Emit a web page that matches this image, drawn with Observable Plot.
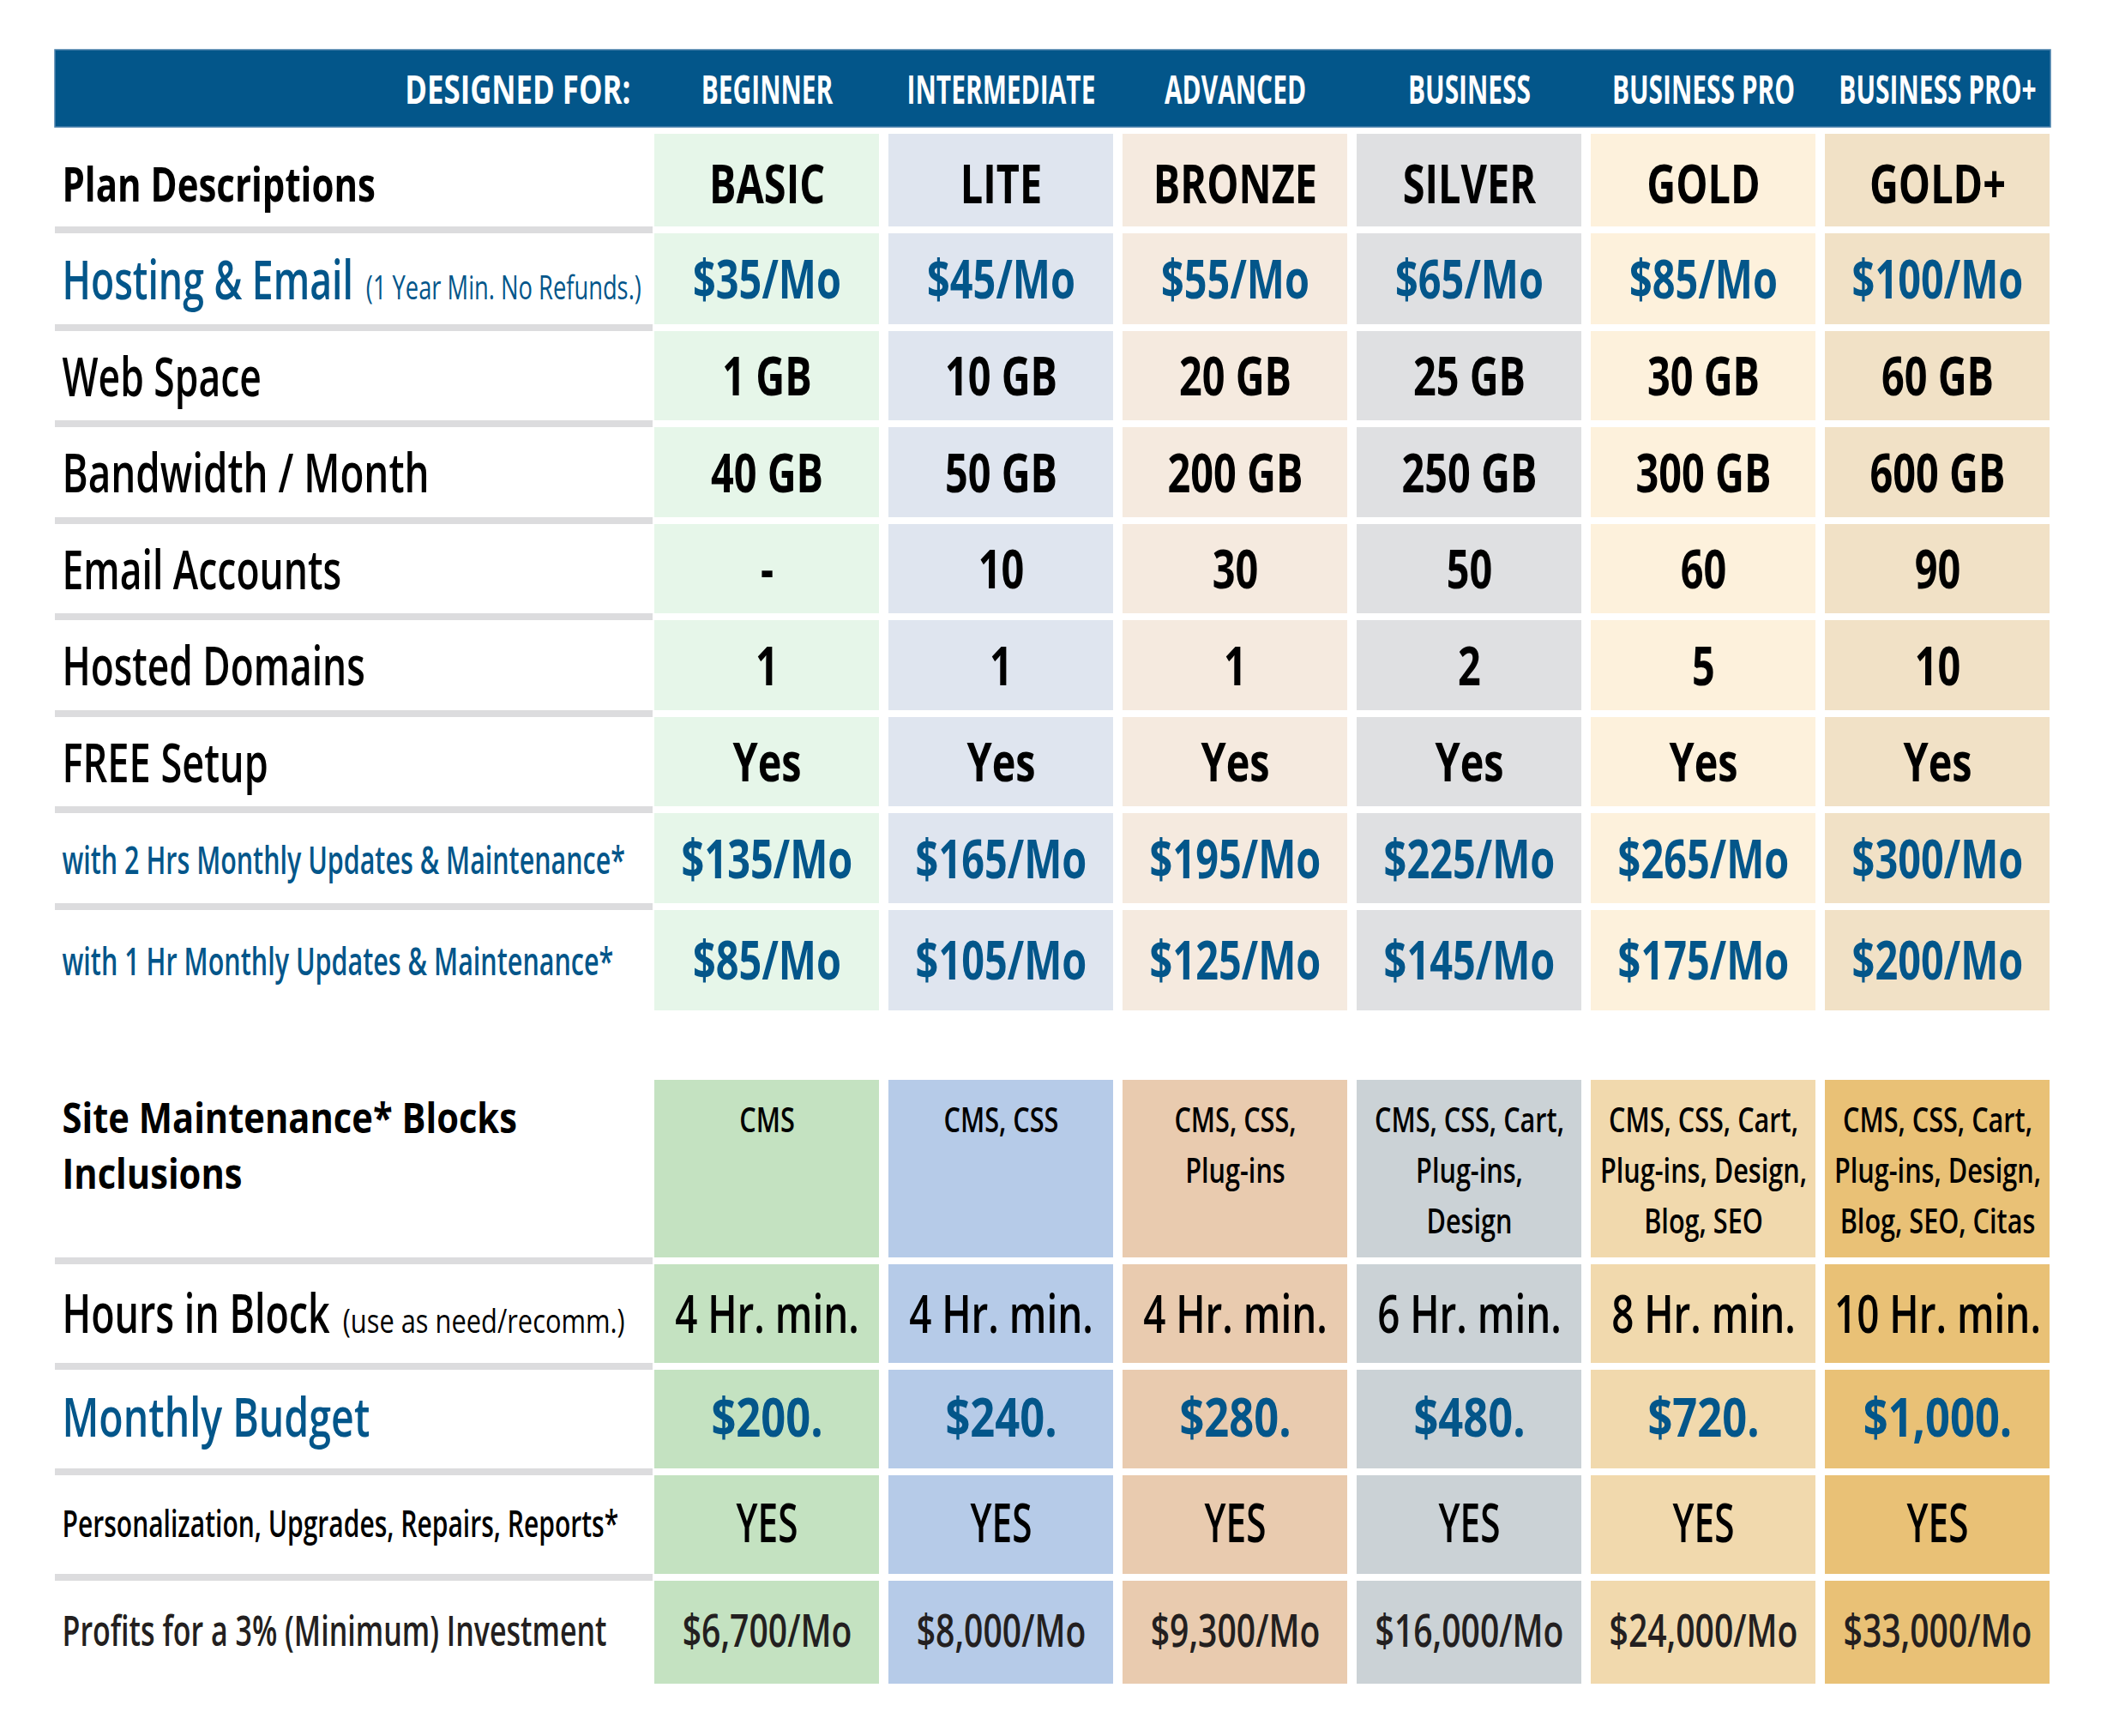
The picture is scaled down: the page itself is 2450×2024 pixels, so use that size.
<!DOCTYPE html>
<html>
<head>
<meta charset="utf-8">
<script src="https://cdn.jsdelivr.net/npm/d3@7"></script>
<script src="https://cdn.jsdelivr.net/npm/@observablehq/plot@0.6"></script>
<style>
  html, body { margin: 0; padding: 0; background: #fff; }
  #chart svg { display: block; }
</style>
</head>
<body>
<div id="chart"></div>
<script>
// ---------------- DATA ----------------
const plans = ["BASIC", "LITE", "BRONZE", "SILVER", "GOLD", "GOLD+"];
const designedForTitle = "DESIGNED FOR:";
const designedFor = ["BEGINNER", "INTERMEDIATE", "ADVANCED", "BUSINESS", "BUSINESS PRO", "BUSINESS PRO+"];
const hostingEmail = ["$35/Mo", "$45/Mo", "$55/Mo", "$65/Mo", "$85/Mo", "$100/Mo"];
const webSpace = ["1 GB", "10 GB", "20 GB", "25 GB", "30 GB", "60 GB"];
const bandwidth = ["40 GB", "50 GB", "200 GB", "250 GB", "300 GB", "600 GB"];
const emailAccounts = ["-", "10", "30", "50", "60", "90"];
const hostedDomains = ["1", "1", "1", "2", "5", "10"];
const freeSetup = ["Yes", "Yes", "Yes", "Yes", "Yes", "Yes"];
const with2Hrs = ["$135/Mo", "$165/Mo", "$195/Mo", "$225/Mo", "$265/Mo", "$300/Mo"];
const with1Hr = ["$85/Mo", "$105/Mo", "$125/Mo", "$145/Mo", "$175/Mo", "$200/Mo"];
const inclusions = [
  "CMS",
  "CMS, CSS",
  "CMS, CSS,\nPlug-ins",
  "CMS, CSS, Cart,\nPlug-ins,\nDesign",
  "CMS, CSS, Cart,\nPlug-ins, Design,\nBlog, SEO",
  "CMS, CSS, Cart,\nPlug-ins, Design,\nBlog, SEO, Citas"
];
const hoursInBlock = ["4 Hr. min.", "4 Hr. min.", "4 Hr. min.", "6 Hr. min.", "8 Hr. min.", "10 Hr. min."];
const monthlyBudget = ["$200.", "$240.", "$280.", "$480.", "$720.", "$1,000."];
const personalization = ["YES", "YES", "YES", "YES", "YES", "YES"];
const profits = ["$6,700/Mo", "$8,000/Mo", "$9,300/Mo", "$16,000/Mo", "$24,000/Mo", "$33,000/Mo"];

const rowLabels = [
  "Plan Descriptions",
  "Hosting & Email",
  "Web Space",
  "Bandwidth / Month",
  "Email Accounts",
  "Hosted Domains",
  "FREE Setup",
  "with 2 Hrs Monthly Updates & Maintenance*",
  "with 1 Hr Monthly Updates & Maintenance*",
  "Site Maintenance* Blocks\nInclusions",
  "Hours in Block",
  "Monthly Budget",
  "Personalization, Upgrades, Repairs, Reports*",
  "Profits for a 3% (Minimum) Investment"
];
const rowNotes = ["", "(1 Year Min. No Refunds.)", "", "", "", "", "", "", "", "", "(use as need/recomm.)", "", "", ""];
const rowValues = [plans, hostingEmail, webSpace, bandwidth, emailAccounts, hostedDomains, freeSetup,
  with2Hrs, with1Hr, inclusions, hoursInBlock, monthlyBudget, personalization, profits];

// ---------------- STYLE / LAYOUT ----------------
const W = 2450, H = 2024;
const M = {left: 64, right: 59};
const LABEL_W = 697;
const GAP = 8;
const FONT = "'Open Sans', 'Noto Sans', sans-serif";
const BLUE = "#03568a", INK = "#000000", DARK = "#231f20";
const lightFills = ["#e6f6e9", "#dfe5ef", "#f5eadf", "#dfe0e2", "#fdf1dc", "#f1e1c6"];
const strongFills = ["#c4e2c1", "#b6cbe8", "#e9cbaf", "#cbd2d6", "#f1d9ad", "#e9c176"];
const SEP = "#dcdcde";
const header = {top: 58, span: 98, cellX: 0.86};
const NOTE = {size: 38, gap: 15, widths: {"(1 Year Min. No Refunds.)": 321, "(use as need/recomm.)": 329}};

// lw/ls/lc: label weight/size/colour, vw/vs/vc: value weight/size/colour,
// lx/vx: horizontal condensing multipliers, dy: vertical nudge
const rowStyle = [
  {section: 1, span: 116, lw: 700, ls: 55, lc: INK,  vw: 700, vs: 62, vc: INK,  lx: 1.01,  vx: 1,    dy: 7, sep: true},
  {section: 1, span: 114, lw: 600, ls: 63, lc: BLUE, vw: 700, vs: 62, vc: BLUE, lx: 1.053, vx: 1,    dy: 3, sep: true},
  {section: 1, span: 112, lw: 600, ls: 64, lc: INK,  vw: 700, vs: 62, vc: INK,  lx: 1.035, vx: 1,    dy: 3, sep: true},
  {section: 1, span: 113, lw: 600, ls: 64, lc: INK,  vw: 700, vs: 62, vc: INK,  lx: 1.066, vx: 1,    dy: 3, sep: true},
  {section: 1, span: 112, lw: 600, ls: 64, lc: INK,  vw: 700, vs: 62, vc: INK,  lx: 1.035, vx: 1,    dy: 3, sep: true},
  {section: 1, span: 113, lw: 600, ls: 64, lc: INK,  vw: 700, vs: 62, vc: INK,  lx: 1.03,  vx: 1,    dy: 3, sep: true},
  {section: 1, span: 112, lw: 600, ls: 64, lc: INK,  vw: 700, vs: 62, vc: INK,  lx: 1.05,  vx: 1,    dy: 3, sep: true},
  {section: 1, span: 113, lw: 600, ls: 46, lc: BLUE, vw: 700, vs: 62, vc: BLUE, lx: 0.986, vx: 1,    dy: 3, sep: true},
  {section: 1, span: 125, lw: 600, ls: 46, lc: BLUE, vw: 700, vs: 62, vc: BLUE, lx: 0.988, vx: 1,    dy: 2, sep: false},
  {section: 2, pre: 73, span: 215, lw: 700, ls: 48, lc: INK, vw: 600, vs: 39, vc: INK, lx: 1.148, vx: 1.17,
   sep: true, top: true, llh: 1.375, vlh: 1.51, base: 61},
  {section: 2, span: 123, lw: 600, ls: 63, lc: INK,  vw: 600, vs: 62, vc: INK,  lx: 1.06,  vx: 1.10, dy: 2, sep: true},
  {section: 2, span: 123, lw: 600, ls: 63, lc: BLUE, vw: 700, vs: 62, vc: BLUE, lx: 1.10,  vx: 1.08, dy: 0, sep: true},
  {section: 2, span: 123, lw: 600, ls: 43, lc: INK,  vw: 600, vs: 63, vc: INK,  lx: 1.04,  vx: 1,    dy: 0, sep: true},
  {section: 2, span: 128, lw: 600, ls: 48, lc: DARK, vw: 600, vs: 52, vc: DARK, lx: 1.055, vx: 1.12, dy: 0, sep: false}
];

// ---------------- BUILD TABLE ----------------
const headerBand = {y1: header.top, y2: header.top + header.span - GAP};
headerBand.yc = (headerBand.y1 + headerBand.y2) / 2;
let cursor = header.top + header.span;
const rows = rowLabels.map((label, i) => {
  const s = rowStyle[i];
  cursor += s.pre || 0;
  const y1 = cursor, y2 = cursor + s.span - GAP;
  cursor += s.span;
  return {i, label, note: rowNotes[i], values: rowValues[i], style: s, y1, y2, yc: (y1 + y2) / 2};
});

const cells = rows.flatMap(r => r.values.map((v, j) => ({
  row: r.i, plan: plans[j], text: v, y1: r.y1, y2: r.y2, yc: r.yc,
  fill: (r.style.section === 1 ? lightFills : strongFills)[j]
})));
const seps = rows.filter(r => r.style.sep).map(r => ({y1: r.y2, y2: r.y2 + GAP}));
const headerCells = designedFor.map((d, j) => ({plan: plans[j], text: d, yc: headerBand.yc}));

const labelRight = M.left + LABEL_W;
const frameRight = W - M.right;

const marks = [
  Plot.rect([headerBand], {y1: "y1", y2: "y2", fill: BLUE, stroke: "#4a80ab", strokeWidth: 1.5}),
  Plot.text([{text: designedForTitle, yc: headerBand.yc}], {
    frameAnchor: "left", dx: LABEL_W - 26, dy: 3, y: "yc", text: "text", textAnchor: "end",
    fill: "white", fontWeight: 700, fontSize: 46, ariaDescription: "sx=1"
  }),
  Plot.text(headerCells, {x: "plan", y: "yc", text: "text", dy: 3, fill: "white", fontWeight: 700, fontSize: 46,
    ariaDescription: "sx=" + header.cellX}),
  Plot.barY(cells, {x: "plan", y1: "y1", y2: "y2", fill: "fill"}),
  Plot.rect(seps, {y1: "y1", y2: "y2", fill: SEP, insetRight: frameRight - labelRight})
];

rows.forEach(r => {
  const s = r.style;
  const rowCells = cells.filter(c => c.row === r.i);
  if (s.top) {
    marks.push(Plot.text([r], {
      frameAnchor: "left", dx: 8, y: "y1", text: "label", textAnchor: "start", lineAnchor: "top",
      lineHeight: s.llh, dy: s.base - 0.71 * s.llh * s.ls,
      fill: s.lc, fontWeight: s.lw, fontSize: s.ls, ariaDescription: "sx=" + s.lx
    }));
    marks.push(Plot.text(rowCells, {
      x: "plan", y: "y1", text: "text", lineAnchor: "top", lineHeight: s.vlh,
      dy: s.base - 0.71 * s.vlh * s.vs,
      fill: s.vc, fontWeight: s.vw, fontSize: s.vs, ariaDescription: "sx=" + s.vx
    }));
  } else {
    marks.push(Plot.text([r], {
      frameAnchor: "left", dx: 8, dy: s.dy, y: "yc", text: "label", textAnchor: "start",
      fill: s.lc, fontWeight: s.lw, fontSize: s.ls, ariaDescription: "sx=" + s.lx
    }));
    marks.push(Plot.text(rowCells, {
      x: "plan", y: "yc", dy: s.dy, text: "text",
      fill: s.vc, fontWeight: s.vw, fontSize: s.vs, ariaDescription: "sx=" + s.vx
    }));
  }
});

const chart = Plot.plot({
  width: W,
  height: H,
  marginLeft: M.left,
  marginRight: M.right,
  marginTop: 0,
  marginBottom: 0,
  style: {fontFamily: FONT, background: "white"},
  x: {type: "band", domain: plans, range: [labelRight, frameRight], paddingInner: 0.042, paddingOuter: 0, axis: null},
  y: {type: "linear", domain: [0, H], range: [0, H], axis: null},
  color: {type: "identity"},
  marks
});
document.getElementById("chart").appendChild(chart);

// ---------------- POST: condensed look + notes ----------------
const NS = "http://www.w3.org/2000/svg";
function measure(str, weight, size) {
  const svg = document.createElementNS(NS, "svg");
  svg.setAttribute("style", "position:absolute;left:-9999px;top:0;visibility:hidden");
  const t = document.createElementNS(NS, "text");
  t.setAttribute("font-family", FONT);
  t.setAttribute("font-weight", weight);
  t.setAttribute("font-size", size);
  t.textContent = str;
  svg.appendChild(t);
  document.body.appendChild(svg);
  const w = t.getComputedTextLength();
  svg.remove();
  return w;
}
const sx = {
  700: d3.mean([367 / measure("Plan Descriptions", 700, 55), 172 / measure("$35/Mo", 700, 62), 134 / measure("BASIC", 700, 62)]),
  600: d3.mean([229 / measure("Web Space", 600, 64), 653 / measure("with 2 Hrs Monthly Updates & Maintenance*", 600, 46)]),
  400: 321 / measure("(1 Year Min. No Refunds.)", 400, 38)
};

const textScale = new Map();
chart.querySelectorAll("text").forEach(el => {
  const g = el.closest("g[aria-description]");
  const mult = g ? parseFloat(g.getAttribute("aria-description").split("=")[1]) || 1 : 1;
  const w = getComputedStyle(el).fontWeight;
  const s = (sx[w] || sx[600]) * mult;
  textScale.set(el, s);
  el.setAttribute("transform", (el.getAttribute("transform") || "") + ` scale(${s.toFixed(4)},1)`);
});

rows.forEach(r => {
  if (!r.note) return;
  const t = Array.from(chart.querySelectorAll("text")).find(el => el.textContent === r.label);
  if (!t) return;
  const s = textScale.get(t) || 1;
  const target = NOTE.widths[r.note] || measure(r.note, 400, NOTE.size) * sx[400];
  const ts = document.createElementNS(NS, "tspan");
  ts.setAttribute("font-size", NOTE.size);
  ts.setAttribute("font-weight", 400);
  ts.setAttribute("dx", (NOTE.gap / s).toFixed(2));
  ts.setAttribute("textLength", (target / s).toFixed(2));
  ts.setAttribute("lengthAdjust", "spacingAndGlyphs");
  ts.textContent = r.note;
  t.appendChild(ts);
});
</script>
</body>
</html>
